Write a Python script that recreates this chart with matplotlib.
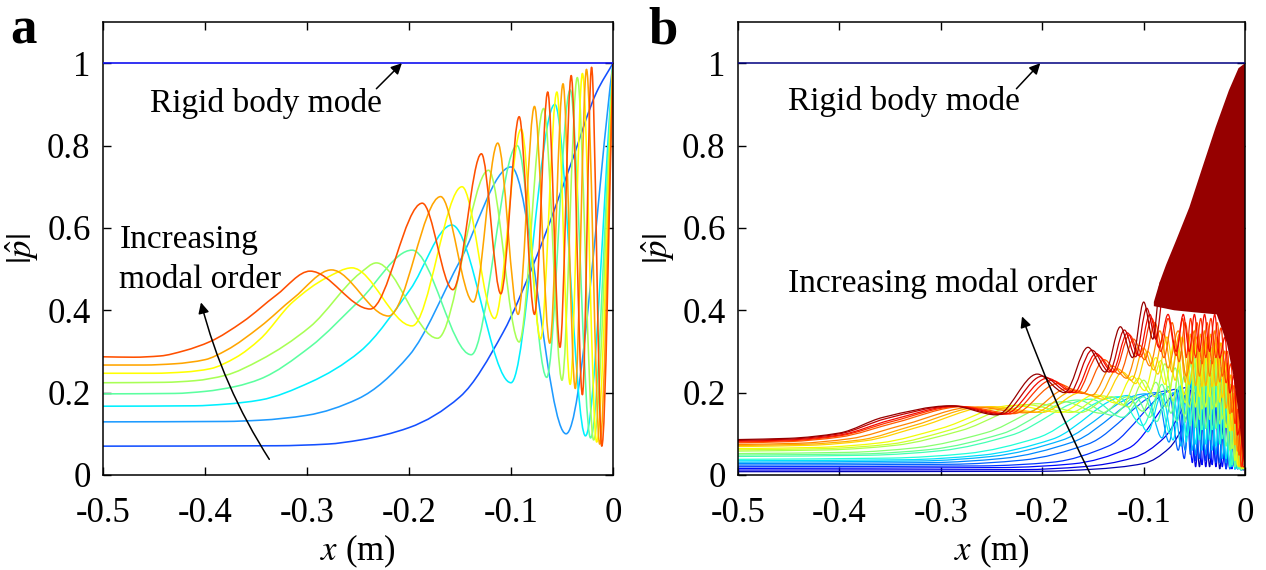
import numpy as np
import matplotlib
matplotlib.use("Agg")
import matplotlib.pyplot as plt
from matplotlib.path import Path
from matplotlib.patches import PathPatch

plt.rcParams['font.family'] = 'serif'
plt.rcParams['font.serif'] = ['Liberation Serif', 'DejaVu Serif']
plt.rcParams['mathtext.fontset'] = 'stix'
plt.rcParams['axes.unicode_minus'] = False

# ---------------- data: panel a (extrema / key points) ----------------
rigid_x = [-0.5, 0.0]
rigid_y = [1.0, 1.0]

a_mode1 = [(-0.5, 0.070), (-0.33, 0.071), (-0.28, 0.075), (-0.248, 0.085), (-0.200, 0.115),
           (-0.150, 0.190), (-0.108, 0.345), (-0.075, 0.530), (-0.042, 0.750), (-0.016, 0.930),
           (0.0, 1.0)]
a_mode2 = [(-0.5, 0.129), (-0.38, 0.130), (-0.346, 0.133), (-0.300, 0.145), (-0.250, 0.185),
           (-0.200, 0.290), (-0.150, 0.520), (-0.100, 0.748), (-0.046, 0.100), (0.0, 1.0)]
a_mode3 = [(-0.5, 0.167), (-0.41, 0.168), (-0.38, 0.172), (-0.346, 0.182), (-0.297, 0.225),
           (-0.248, 0.300), (-0.199, 0.450), (-0.158, 0.607), (-0.100, 0.224), (-0.057, 0.900),
           (-0.027, 0.095), (0.0, 1.0)]
a_mode4 = [(-0.5, 0.197), (-0.43, 0.198), (-0.40, 0.203), (-0.37, 0.215), (-0.346, 0.233),
           (-0.297, 0.311), (-0.248, 0.425), (-0.197, 0.546), (-0.139, 0.292), (-0.094, 0.800),
           (-0.065, 0.237), (-0.042, 0.935), (-0.022, 0.090), (0.0, 1.0)]
a_mode5 = [(-0.5, 0.224), (-0.44, 0.225), (-0.41, 0.229), (-0.38, 0.242), (-0.346, 0.279),
           (-0.297, 0.360), (-0.248, 0.490), (-0.232, 0.515), (-0.172, 0.332), (-0.122, 0.740),
           (-0.092, 0.323), (-0.068, 0.890), (-0.050, 0.230), (-0.035, 0.965), (-0.019, 0.085),
           (0.0, 1.0)]
a_mode6 = [(-0.5, 0.247), (-0.45, 0.247), (-0.42, 0.250), (-0.395, 0.258), (-0.37, 0.285),
           (-0.346, 0.330), (-0.314, 0.420), (-0.280, 0.480), (-0.256, 0.503), (-0.197, 0.362),
           (-0.148, 0.700), (-0.116, 0.380), (-0.090, 0.840), (-0.071, 0.330), (-0.055, 0.930),
           (-0.042, 0.220), (-0.030, 0.975), (-0.016, 0.080), (0.0, 1.0)]
a_mode7 = [(-0.5, 0.267), (-0.46, 0.267), (-0.43, 0.270), (-0.40, 0.280), (-0.379, 0.303),
           (-0.346, 0.360), (-0.313, 0.430), (-0.276, 0.498), (-0.220, 0.386), (-0.169, 0.676),
           (-0.137, 0.420), (-0.113, 0.806), (-0.093, 0.390), (-0.077, 0.895), (-0.062, 0.320),
           (-0.049, 0.950), (-0.037, 0.210), (-0.026, 0.985), (-0.013, 0.075), (0.0, 1.0)]
a_mode8 = [(-0.5, 0.287), (-0.47, 0.286), (-0.444, 0.289), (-0.42, 0.302), (-0.395, 0.324),
           (-0.363, 0.372), (-0.330, 0.437), (-0.297, 0.495), (-0.238, 0.403), (-0.187, 0.660),
           (-0.157, 0.450), (-0.129, 0.780), (-0.110, 0.440), (-0.092, 0.870), (-0.077, 0.390),
           (-0.064, 0.930), (-0.052, 0.310), (-0.041, 0.970), (-0.030, 0.195), (-0.021, 0.990),
           (-0.011, 0.070), (0.0, 1.0)]
a_colors = ['#1450ff', '#1e9bff', '#00f0ff', '#5cffa0', '#a8ff55', '#ffff00', '#ffa500', '#ff5000']

# ---------------- data: panel b (curves listed from lowest to highest modal order) ----------------
b_m00 = [(-0.5, 0.008), (-0.20, 0.009), (-0.15, 0.014), (-0.10, 0.028), (-0.075, 0.065), (-0.060, 0.125),
         (-0.050, 0.20), (-0.045, 0.02), (-0.040, 0.20), (-0.035, 0.02), (-0.030, 0.20), (-0.025, 0.015),
         (-0.020, 0.172), (-0.015, 0.015), (-0.011, 0.124), (-0.0075, 0.015), (-0.0045, 0.062),
         (-0.002, 0.012), (0.0, 0.02)]
b_m01 = [(-0.5, 0.012), (-0.22, 0.013), (-0.16, 0.020), (-0.11, 0.042), (-0.08, 0.090), (-0.064, 0.150),
         (-0.054, 0.206), (-0.0488, 0.02), (-0.0438, 0.207), (-0.0388, 0.02), (-0.0338, 0.207),
         (-0.0288, 0.02), (-0.0238, 0.195), (-0.0188, 0.015), (-0.014, 0.147), (-0.010, 0.015),
         (-0.0068, 0.087), (-0.0038, 0.012), (-0.0015, 0.03), (0.0, 0.02)]
b_m02 = [(-0.5, 0.016), (-0.24, 0.018), (-0.17, 0.027), (-0.115, 0.065), (-0.058, 0.212), (-0.052, 0.03),
         (-0.0475, 0.215), (-0.0425, 0.025), (-0.0375, 0.215), (-0.0325, 0.025), (-0.0275, 0.215),
         (-0.0225, 0.02), (-0.0175, 0.174), (-0.013, 0.015), (-0.009, 0.118), (-0.006, 0.015),
         (-0.003, 0.045), (0.0, 0.02)]
b_m03 = [(-0.5, 0.020), (-0.26, 0.022), (-0.19, 0.031), (-0.135, 0.070), (-0.068, 0.208), (-0.060, 0.04),
         (-0.0538, 0.222), (-0.0488, 0.035), (-0.0438, 0.222), (-0.0388, 0.035), (-0.0338, 0.222),
         (-0.0288, 0.03), (-0.0238, 0.209), (-0.0188, 0.015), (-0.014, 0.158), (-0.010, 0.015),
         (-0.0068, 0.093), (-0.0038, 0.012), (-0.0015, 0.032), (0.0, 0.02)]
b_m04 = [(-0.5, 0.024), (-0.29, 0.026), (-0.22, 0.036), (-0.155, 0.075), (-0.075, 0.205), (-0.066, 0.06),
         (-0.058, 0.21), (-0.054, 0.05), (-0.050, 0.225), (-0.045, 0.04), (-0.040, 0.23), (-0.035, 0.04),
         (-0.030, 0.23), (-0.025, 0.03), (-0.020, 0.198), (-0.015, 0.015), (-0.011, 0.143),
         (-0.0075, 0.015), (-0.0045, 0.071), (-0.002, 0.015), (0.0, 0.02)]
b_m05 = [(-0.5, 0.0275), (-0.31, 0.030), (-0.24, 0.040), (-0.17, 0.080), (-0.087, 0.200), (-0.075, 0.08),
         (-0.066, 0.205), (-0.059, 0.06), (-0.0538, 0.225), (-0.0488, 0.05), (-0.0438, 0.235),
         (-0.0388, 0.05), (-0.0338, 0.235), (-0.0288, 0.05), (-0.0238, 0.221), (-0.0188, 0.03),
         (-0.014, 0.167), (-0.010, 0.015), (-0.0068, 0.099), (-0.0038, 0.012), (-0.0015, 0.035), (0.0, 0.02)]
b_m06 = [(-0.5, 0.031), (-0.32, 0.034), (-0.25, 0.045), (-0.18, 0.085), (-0.098, 0.197), (-0.082, 0.09),
         (-0.071, 0.20), (-0.063, 0.07), (-0.057, 0.215), (-0.052, 0.06), (-0.0475, 0.24), (-0.0425, 0.06),
         (-0.0375, 0.24), (-0.0325, 0.06), (-0.0275, 0.24), (-0.0225, 0.04), (-0.0175, 0.194),
         (-0.013, 0.02), (-0.009, 0.132), (-0.006, 0.015), (-0.003, 0.05), (0.0, 0.02)]
b_m07 = [(-0.5, 0.0345), (-0.335, 0.037), (-0.26, 0.048), (-0.19, 0.087), (-0.115, 0.193), (-0.096, 0.105),
         (-0.082, 0.198), (-0.071, 0.085), (-0.0625, 0.22), (-0.058, 0.08), (-0.0538, 0.24), (-0.0488, 0.075),
         (-0.0438, 0.248), (-0.0388, 0.075), (-0.0338, 0.248), (-0.0288, 0.07), (-0.0238, 0.233),
         (-0.0188, 0.04), (-0.014, 0.176), (-0.010, 0.015), (-0.0068, 0.104), (-0.0038, 0.012),
         (-0.0015, 0.035), (0.0, 0.02)]
b_m08 = [(-0.5, 0.038), (-0.35, 0.041), (-0.275, 0.052), (-0.205, 0.09), (-0.125, 0.19), (-0.101, 0.12),
         (-0.085, 0.195), (-0.074, 0.10), (-0.065, 0.215), (-0.057, 0.095), (-0.050, 0.235), (-0.045, 0.085),
         (-0.040, 0.25), (-0.035, 0.085), (-0.030, 0.255), (-0.025, 0.075), (-0.020, 0.219),
         (-0.015, 0.02), (-0.011, 0.158), (-0.0075, 0.015), (-0.0045, 0.079), (-0.002, 0.015), (0.0, 0.02)]
b_m09 = [(-0.5, 0.045), (-0.37, 0.048), (-0.30, 0.059), (-0.23, 0.097), (-0.152, 0.184), (-0.121, 0.14),
         (-0.100, 0.19), (-0.087, 0.13), (-0.076, 0.215), (-0.067, 0.13), (-0.060, 0.24), (-0.054, 0.12),
         (-0.0475, 0.27), (-0.0425, 0.11), (-0.0375, 0.27), (-0.0325, 0.11), (-0.0275, 0.27),
         (-0.0225, 0.088), (-0.0175, 0.219), (-0.013, 0.024), (-0.009, 0.149), (-0.006, 0.015),
         (-0.003, 0.057), (0.0, 0.02)]
b_m10 = [(-0.5, 0.0485), (-0.38, 0.051), (-0.31, 0.062), (-0.24, 0.10), (-0.165, 0.182), (-0.131, 0.145),
         (-0.108, 0.19), (-0.094, 0.14), (-0.082, 0.22), (-0.073, 0.15), (-0.065, 0.255), (-0.059, 0.13),
         (-0.0538, 0.275), (-0.0488, 0.115), (-0.0438, 0.278), (-0.0388, 0.113), (-0.0338, 0.278),
         (-0.0288, 0.113), (-0.0238, 0.261), (-0.0188, 0.07), (-0.014, 0.197), (-0.010, 0.02),
         (-0.0068, 0.117), (-0.0038, 0.012), (-0.0015, 0.035), (0.0, 0.02)]
b_m11 = [(-0.5, 0.052), (-0.39, 0.055), (-0.325, 0.066), (-0.255, 0.103), (-0.179, 0.178), (-0.142, 0.15),
         (-0.116, 0.19), (-0.101, 0.155), (-0.088, 0.225), (-0.078, 0.165), (-0.069, 0.26), (-0.060, 0.145),
         (-0.050, 0.285), (-0.045, 0.135), (-0.040, 0.285), (-0.035, 0.135), (-0.030, 0.285),
         (-0.025, 0.124), (-0.020, 0.245), (-0.015, 0.061), (-0.011, 0.177), (-0.0075, 0.02),
         (-0.0045, 0.088), (-0.002, 0.015), (0.0, 0.02)]
b_m12 = [(-0.5, 0.058), (-0.41, 0.061), (-0.345, 0.072), (-0.28, 0.108), (-0.205, 0.173), (-0.162, 0.152),
         (-0.132, 0.19), (-0.115, 0.165), (-0.100, 0.23), (-0.089, 0.19), (-0.079, 0.27), (-0.071, 0.18),
         (-0.063, 0.30), (-0.055, 0.165), (-0.0475, 0.30), (-0.0425, 0.16), (-0.0375, 0.30),
         (-0.0325, 0.16), (-0.0275, 0.30), (-0.0225, 0.136), (-0.0175, 0.243), (-0.013, 0.064),
         (-0.009, 0.165), (-0.006, 0.02), (-0.003, 0.063), (0.0, 0.02)]
b_m13 = [(-0.5, 0.061), (-0.415, 0.064), (-0.35, 0.075), (-0.29, 0.11), (-0.217, 0.171), (-0.172, 0.152),
         (-0.140, 0.192), (-0.121, 0.17), (-0.105, 0.235), (-0.094, 0.20), (-0.083, 0.278), (-0.075, 0.20),
         (-0.067, 0.31), (-0.059, 0.175), (-0.0538, 0.31), (-0.0488, 0.165), (-0.0438, 0.31),
         (-0.0388, 0.165), (-0.0338, 0.31), (-0.0288, 0.165), (-0.0238, 0.291), (-0.0188, 0.115),
         (-0.014, 0.22), (-0.010, 0.035), (-0.0068, 0.13), (-0.0038, 0.015), (-0.0015, 0.037), (0.0, 0.02)]
b_m14 = [(-0.5, 0.064), (-0.42, 0.067), (-0.36, 0.078), (-0.30, 0.113), (-0.229, 0.169), (-0.182, 0.152),
         (-0.148, 0.195), (-0.128, 0.175), (-0.111, 0.24), (-0.099, 0.205), (-0.088, 0.285), (-0.079, 0.22),
         (-0.070, 0.32), (-0.060, 0.195), (-0.050, 0.32), (-0.045, 0.19), (-0.040, 0.32), (-0.035, 0.19),
         (-0.030, 0.32), (-0.025, 0.177), (-0.020, 0.275), (-0.015, 0.107), (-0.011, 0.198),
         (-0.0075, 0.024), (-0.0045, 0.099), (-0.002, 0.015), (0.0, 0.02)]
b_m15 = [(-0.5, 0.069), (-0.43, 0.072), (-0.375, 0.083), (-0.32, 0.118), (-0.250, 0.166), (-0.200, 0.152),
         (-0.162, 0.20), (-0.140, 0.184), (-0.121, 0.25), (-0.108, 0.222), (-0.096, 0.30), (-0.086, 0.245),
         (-0.077, 0.335), (-0.069, 0.23), (-0.062, 0.335), (-0.055, 0.22), (-0.0475, 0.335),
         (-0.0425, 0.215), (-0.0375, 0.335), (-0.0325, 0.215), (-0.0275, 0.335), (-0.0225, 0.188),
         (-0.0175, 0.271), (-0.013, 0.108), (-0.009, 0.184), (-0.006, 0.02), (-0.003, 0.07), (0.0, 0.02)]
b_m16 = [(-0.5, 0.0715), (-0.435, 0.0745), (-0.38, 0.085), (-0.327, 0.12), (-0.259, 0.165), (-0.208, 0.152),
         (-0.168, 0.205), (-0.145, 0.19), (-0.126, 0.258), (-0.112, 0.23), (-0.100, 0.308), (-0.090, 0.255),
         (-0.080, 0.342), (-0.072, 0.25), (-0.065, 0.342), (-0.059, 0.225), (-0.0538, 0.342),
         (-0.0488, 0.217), (-0.0438, 0.342), (-0.0388, 0.217), (-0.0338, 0.342), (-0.0288, 0.217),
         (-0.0238, 0.321), (-0.0188, 0.162), (-0.014, 0.243), (-0.010, 0.073), (-0.0068, 0.144),
         (-0.0038, 0.02), (-0.0015, 0.041), (0.0, 0.02)]
b_m17 = [(-0.5, 0.074), (-0.44, 0.077), (-0.39, 0.088), (-0.335, 0.123), (-0.267, 0.165), (-0.216, 0.151),
         (-0.175, 0.21), (-0.151, 0.194), (-0.131, 0.265), (-0.117, 0.235), (-0.104, 0.315), (-0.094, 0.265),
         (-0.084, 0.35), (-0.076, 0.26), (-0.066, 0.35), (-0.058, 0.24), (-0.050, 0.35), (-0.045, 0.24),
         (-0.040, 0.35), (-0.035, 0.24), (-0.030, 0.35), (-0.025, 0.226), (-0.020, 0.301),
         (-0.015, 0.149), (-0.011, 0.217), (-0.0075, 0.058), (-0.0045, 0.109), (-0.002, 0.02), (0.0, 0.02)]
b_m18 = [(-0.5, 0.078), (-0.45, 0.081), (-0.40, 0.092), (-0.345, 0.127), (-0.278, 0.166), (-0.228, 0.149),
         (-0.185, 0.222), (-0.160, 0.198), (-0.139, 0.28), (-0.124, 0.245), (-0.110, 0.33), (-0.099, 0.28),
         (-0.089, 0.37), (-0.080, 0.285), (-0.072, 0.37), (-0.065, 0.275), (-0.059, 0.37), (-0.053, 0.27),
         (-0.0475, 0.37), (-0.0425, 0.27), (-0.0375, 0.37), (-0.0325, 0.27), (-0.0275, 0.37),
         (-0.0225, 0.24), (-0.0175, 0.30), (-0.013, 0.152), (-0.009, 0.204), (-0.006, 0.048),
         (-0.003, 0.078), (0.0, 0.02)]
b_m19 = [(-0.5, 0.080), (-0.45, 0.083), (-0.40, 0.095), (-0.348, 0.13), (-0.282, 0.1665), (-0.233, 0.148),
         (-0.191, 0.23), (-0.166, 0.20), (-0.145, 0.29), (-0.129, 0.25), (-0.114, 0.34), (-0.103, 0.287),
         (-0.092, 0.38), (-0.083, 0.30), (-0.076, 0.38), (-0.068, 0.29), (-0.0615, 0.38), (-0.058, 0.285),
         (-0.0538, 0.38), (-0.0488, 0.285), (-0.0438, 0.38), (-0.0388, 0.285), (-0.0338, 0.38),
         (-0.0288, 0.285), (-0.0238, 0.357), (-0.0188, 0.224), (-0.014, 0.27), (-0.010, 0.125),
         (-0.0068, 0.16), (-0.0038, 0.02), (-0.0015, 0.046), (0.0, 0.02)]
b_m20 = [(-0.5, 0.082), (-0.45, 0.085), (-0.40, 0.097), (-0.35, 0.133), (-0.285, 0.167), (-0.237, 0.148),
         (-0.195, 0.235), (-0.169, 0.20), (-0.147, 0.295), (-0.131, 0.25), (-0.116, 0.345), (-0.105, 0.29),
         (-0.094, 0.39), (-0.085, 0.31), (-0.076, 0.39), (-0.068, 0.30), (-0.061, 0.39), (-0.055, 0.30),
         (-0.050, 0.39), (-0.045, 0.30), (-0.040, 0.39), (-0.035, 0.30), (-0.030, 0.39), (-0.025, 0.284),
         (-0.020, 0.335), (-0.015, 0.199), (-0.011, 0.242), (-0.0075, 0.097), (-0.0045, 0.121),
         (-0.002, 0.02), (0.0, 0.02)]
b_m21 = [(-0.5, 0.084), (-0.45, 0.087), (-0.40, 0.100), (-0.354, 0.137), (-0.288, 0.1675), (-0.241, 0.147),
         (-0.200, 0.240), (-0.173, 0.200), (-0.151, 0.303), (-0.134, 0.250), (-0.119, 0.352), (-0.108, 0.287),
         (-0.097, 0.405), (-0.088, 0.330), (-0.080, 0.450), (-0.073, 0.410), (-0.066, 0.500)]
b_m22 = [(-0.5, 0.086), (-0.45, 0.089), (-0.40, 0.102), (-0.357, 0.140), (-0.290, 0.168), (-0.245, 0.146),
         (-0.205, 0.245), (-0.178, 0.200), (-0.155, 0.310), (-0.138, 0.250), (-0.123, 0.360), (-0.111, 0.285),
         (-0.100, 0.420), (-0.091, 0.330), (-0.083, 0.470), (-0.076, 0.420), (-0.070, 0.500)]

# dense high-order region near x = 0 (solid dark red band): upper and lower outline
b_block_top_x = [-0.090, -0.084, -0.078, -0.068, -0.055, -0.042, -0.029, -0.016, -0.0065, 0.0]
b_block_top_y = [0.42, 0.47, 0.51, 0.57, 0.65, 0.748, 0.845, 0.934, 0.988, 1.0]
b_block_bot_x = [0.0, -0.001, -0.0033, -0.007, -0.0115, -0.018, -0.028, -0.05, -0.07, -0.090]
b_block_bot_y = [0.02, 0.02, 0.075, 0.16, 0.24, 0.32, 0.39, 0.395, 0.40, 0.41]

x_ticks = [-0.5, -0.4, -0.3, -0.2, -0.1, 0.0]
x_ticklabels = ['-0.5', '-0.4', '-0.3', '-0.2', '-0.1', '0']
y_ticks = [0, 0.2, 0.4, 0.6, 0.8, 1.0]
y_ticklabels = ['0', '0.2', '0.4', '0.6', '0.8', '1']

FS = 24
FS_TICK = 25


def smooth_curve(ax, pts, color, lw, z=2):
    # smooth Bezier path through the read points (horizontal tangents at extrema)
    x = np.array([p[0] for p in pts], dtype=float)
    y = np.array([p[1] for p in pts], dtype=float)
    h = np.diff(x)
    d = np.diff(y) / h
    m = np.zeros_like(x)
    m[0] = d[0]
    m[-1] = d[-1]
    for i in range(1, len(x) - 1):
        if d[i - 1] * d[i] <= 0:
            m[i] = 0.0
        else:
            w1 = 2 * h[i] + h[i - 1]
            w2 = h[i] + 2 * h[i - 1]
            m[i] = (w1 + w2) / (w1 / d[i - 1] + w2 / d[i])
    verts = [(x[0], y[0])]
    codes = [Path.MOVETO]
    for i in range(len(h)):
        verts += [(x[i] + h[i] / 3, y[i] + m[i] * h[i] / 3),
                  (x[i + 1] - h[i] / 3, y[i + 1] - m[i + 1] * h[i] / 3),
                  (x[i + 1], y[i + 1])]
        codes += [Path.CURVE4] * 3
    ax.add_patch(PathPatch(Path(verts, codes), fill=False, edgecolor=color, lw=lw, zorder=z,
                           capstyle='round', joinstyle='round'))


def style_axes(ax):
    ax.set_xlim(-0.5, 0)
    ax.set_ylim(0, 1.1)
    ax.set_xticks(x_ticks)
    ax.set_xticklabels(x_ticklabels)
    ax.set_yticks(y_ticks)
    ax.set_yticklabels(y_ticklabels)
    ax.tick_params(direction='in', top=True, right=True, length=6, width=1, labelsize=FS_TICK)
    ax.tick_params(axis='x', pad=16)
    ax.tick_params(axis='y', pad=9)
    for s in ax.spines.values():
        s.set_linewidth(1.1)
    ax.set_xlabel(r'$x$ (m)', fontsize=FS_TICK, labelpad=2)
    ax.set_ylabel(r'$|\hat{p}|$', fontsize=FS_TICK, labelpad=4)


fig = plt.figure(figsize=(12.66, 5.70), dpi=100)
ax1 = fig.add_axes([0.0814, 0.1667, 0.4028, 0.7947])
ax2 = fig.add_axes([0.5830, 0.1667, 0.4005, 0.7947])

# ---- panel a ----
ax1.plot(rigid_x, rigid_y, color='#1010f0', lw=1.2, zorder=3)
for pts, c in zip([a_mode1, a_mode2, a_mode3, a_mode4, a_mode5, a_mode6, a_mode7, a_mode8], a_colors):
    smooth_curve(ax1, pts, c, 1.15)
style_axes(ax1)
ax1.text(-0.454, 0.903, 'Rigid body mode', fontsize=FS, va='center', ha='left')
ax1.annotate('', xy=(-0.207, 1.0), xytext=(-0.232, 0.938),
             arrowprops=dict(arrowstyle='-|>', color='k', lw=1.1, mutation_scale=16,
                             shrinkA=0, shrinkB=0))
ax1.text(-0.484, 0.571, 'Increasing', fontsize=FS, va='center', ha='left')
ax1.text(-0.484, 0.473, 'modal order', fontsize=FS, va='center', ha='left')
ax1.annotate('', xy=(-0.404, 0.419), xytext=(-0.337, 0.038),
             arrowprops=dict(arrowstyle='-|>', color='k', lw=1.1, mutation_scale=16,
                             shrinkA=0, shrinkB=0, connectionstyle='arc3,rad=-0.08'))

# ---- panel b ----
b_modes = [b_m00, b_m01, b_m02, b_m03, b_m04, b_m05, b_m06, b_m07, b_m08, b_m09, b_m10, b_m11,
           b_m12, b_m13, b_m14, b_m15, b_m16, b_m17, b_m18, b_m19, b_m20, b_m21, b_m22]
b_colors = plt.cm.jet(np.linspace(0.05, 0.98, len(b_modes)))
ax2.plot(rigid_x, rigid_y, color='#000080', lw=1.1, zorder=3)
for pts, c in zip(b_modes, b_colors):
    smooth_curve(ax2, pts, c, 0.9)
ax2.fill(b_block_top_x + b_block_bot_x, b_block_top_y + b_block_bot_y,
         color=b_colors[-1], lw=0, zorder=2.5)
style_axes(ax2)
ax2.text(-0.451, 0.907, 'Rigid body mode', fontsize=FS, va='center', ha='left')
ax2.annotate('', xy=(-0.202, 1.0), xytext=(-0.2255, 0.938),
             arrowprops=dict(arrowstyle='-|>', color='k', lw=1.1, mutation_scale=16,
                             shrinkA=0, shrinkB=0))
ax2.text(-0.451, 0.466, 'Increasing modal order', fontsize=FS, va='center', ha='left')
ax2.annotate('', xy=(-0.22, 0.385), xytext=(-0.153, 0.004),
             arrowprops=dict(arrowstyle='-|>', color='k', lw=1.1, mutation_scale=16,
                             shrinkA=0, shrinkB=0, connectionstyle='arc3,rad=-0.03'))

fig.text(0.008, 0.946, 'a', fontsize=38, fontweight='bold', va='center', ha='left')
fig.text(0.512, 0.946, 'b', fontsize=38, fontweight='bold', va='center', ha='left')

fig.savefig('out.png', dpi=100)
